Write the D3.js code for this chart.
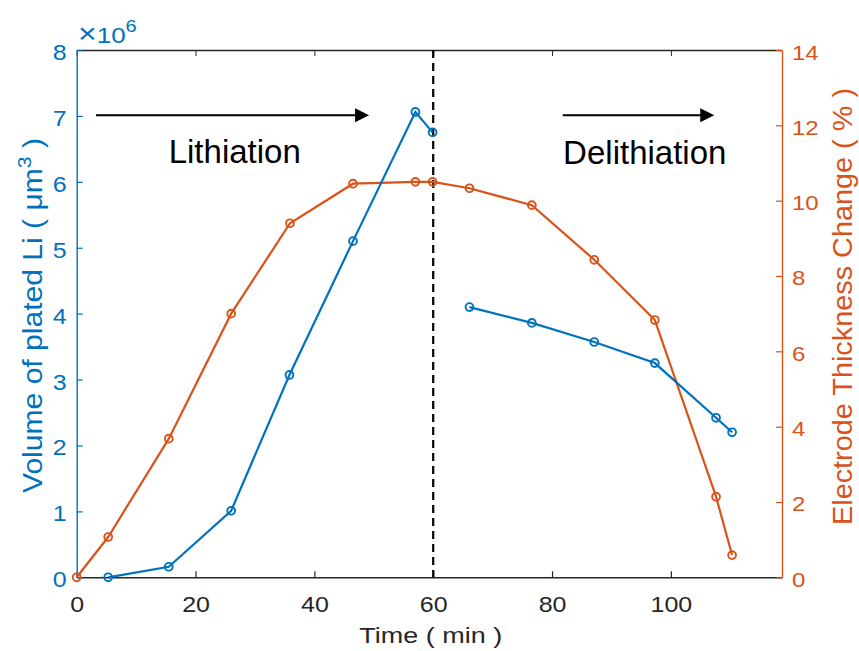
<!DOCTYPE html>
<html>
<head>
<meta charset="utf-8">
<script src="https://cdn.jsdelivr.net/npm/d3@7"></script>
<style>
  body { margin: 0; background: #fff; }
  text { font-family: "Liberation Sans", Arial, Helvetica, sans-serif; }
</style>
</head>
<body>
<div id="chart"></div>
<script>
// time (min) of each measurement
var timeThick = [0, 5.3, 15.5, 26.0, 35.9, 46.5, 57.0, 59.9, 66.1, 76.6, 87.1, 97.3, 107.6, 110.3];
// electrode thickness change (%)
var thickness = [0, 1.07, 3.68, 7.0, 9.4, 10.45, 10.5, 10.5, 10.33, 9.88, 8.43, 6.83, 2.14, 0.59];

// volume of plated Li (um^3), lithiation part and delithiation part
var volLithTime = [5.3, 15.5, 26.0, 35.8, 46.5, 57.0, 59.9];
var volLith = [0, 0.16e6, 1.01e6, 3.07e6, 5.1e6, 7.06e6, 6.75e6];
var volDelithTime = [66.1, 76.6, 87.1, 97.3, 107.6, 110.3];
var volDelith = [4.1e6, 3.86e6, 3.57e6, 3.25e6, 2.42e6, 2.2e6];

var xTicks = [0, 20, 40, 60, 80, 100];
var yLeftTicks = [0, 1e6, 2e6, 3e6, 4e6, 5e6, 6e6, 7e6, 8e6];
var yRightTicks = [0, 2, 4, 6, 8, 10, 12, 14];

var W = 859, H = 651;
// plot box edges (px)
var pL = 76.7, pR = 782, pT = 50, pB = 577.3;
var SQ = 0.85; // figure is squashed vertically
var BLUE = "#0072BD", ORANGE = "#D95319", DARK = "#262626";

var svg = d3.select("#chart").append("svg")
  .attr("width", W)
  .attr("height", H);

var x = d3.scaleLinear().domain([0, 118.7]).range([pL, pR]);
var yL = d3.scaleLinear().domain([0, 8e6]).range([pB, pT]);
var yR = d3.scaleLinear().domain([0, 14]).range([pB, pT]);

function styleTicks(g, dx, dy, anchor, size) {
  g.attr("font-size", size);
  g.selectAll(".tick line").attr("stroke-width", 1.2);
  g.selectAll(".tick text")
    .attr("x", null).attr("y", null).attr("dy", null)
    .attr("text-anchor", anchor)
    .attr("transform", "translate(" + dx + "," + dy + ") scale(1," + SQ + ")");
}

// top border with ticks
svg.append("g")
  .attr("transform", "translate(0," + pT + ")")
  .attr("color", DARK)
  .call(d3.axisTop(x).tickValues(xTicks).tickSizeInner(-6).tickSizeOuter(0).tickFormat(""))
  .select(".domain").attr("stroke-width", 1.4);

// bottom axis
var gx = svg.append("g")
  .attr("transform", "translate(0," + pB + ")")
  .attr("color", DARK)
  .call(d3.axisBottom(x).tickValues(xTicks).tickSizeInner(-6).tickSizeOuter(0));
gx.select(".domain").attr("stroke-width", 1.4);
styleTicks(gx, 0, 34.4, "middle", 25);

// left axis
var gl = svg.append("g")
  .attr("transform", "translate(" + pL + ",0)")
  .attr("color", BLUE)
  .call(d3.axisLeft(yL).tickValues(yLeftTicks).tickSizeInner(-6).tickSizeOuter(0)
    .tickFormat(function(d) { return d / 1e6; }));
gl.select(".domain").attr("stroke-width", 1.4);
styleTicks(gl, -10, 9.5, "end", 25);

// right axis
var gr = svg.append("g")
  .attr("transform", "translate(" + pR + ",0)")
  .attr("color", ORANGE)
  .call(d3.axisRight(yR).tickValues(yRightTicks).tickSizeInner(-6).tickSizeOuter(0));
gr.select(".domain").attr("stroke-width", 1.4);
styleTicks(gr, 10, 9, "start", 24);

// x10^6 exponent label
var expo = svg.append("text")
  .attr("transform", "translate(78,43) scale(1," + SQ + ")")
  .attr("fill", BLUE)
  .attr("font-size", 26);
expo.append("tspan").attr("font-size", 32).text("\u00d7");
expo.append("tspan").text("10");
expo.append("tspan").attr("font-size", 20).attr("dy", -13).text("6");

// axis labels
svg.append("text")
  .attr("transform", "translate(430.8,643.3) scale(1," + SQ + ")")
  .attr("text-anchor", "middle")
  .attr("fill", DARK)
  .attr("font-size", 27)
  .text("Time ( min )");

var ylab = svg.append("text")
  .attr("transform", "translate(42,315.5) rotate(-90)")
  .attr("text-anchor", "middle")
  .attr("fill", BLUE)
  .attr("font-size", 27)
  .attr("textLength", 355)
  .attr("lengthAdjust", "spacingAndGlyphs");
ylab.append("tspan").text("Volume of plated Li ( \u03bcm");
ylab.append("tspan").attr("font-size", 19).attr("dy", -11).text("3");
ylab.append("tspan").attr("dy", 11).text(" )");

svg.append("text")
  .attr("transform", "translate(851.7,306.5) rotate(-90)")
  .attr("text-anchor", "middle")
  .attr("fill", ORANGE)
  .attr("font-size", 27)
  .attr("textLength", 437)
  .attr("lengthAdjust", "spacingAndGlyphs")
  .text("Electrode Thickness Change ( % )");

// dashed line at 60 min
svg.append("line")
  .attr("x1", x(60)).attr("x2", x(60))
  .attr("y1", pT).attr("y2", pB)
  .attr("stroke", "#000")
  .attr("stroke-width", 2.2)
  .attr("stroke-dasharray", "8,5");

// series
function drawSeries(xs, ys, yScale, color) {
  var pts = xs.map(function(t, i) { return [x(t), yScale(ys[i])]; });
  svg.append("path")
    .attr("d", d3.line()(pts))
    .attr("fill", "none")
    .attr("stroke", color)
    .attr("stroke-width", 2.2);
  svg.append("g").selectAll("circle")
    .data(pts)
    .enter().append("circle")
    .attr("cx", function(d) { return d[0]; })
    .attr("cy", function(d) { return d[1]; })
    .attr("r", 3.9)
    .attr("fill", "none")
    .attr("stroke", color)
    .attr("stroke-width", 1.9);
}
drawSeries(timeThick, thickness, yR, ORANGE);
drawSeries(volLithTime, volLith, yL, BLUE);
drawSeries(volDelithTime, volDelith, yL, BLUE);

// annotations
function arrow(t0, t1, v) {
  var x0 = x(t0), x1 = x(t1), yy = yL(v);
  svg.append("line")
    .attr("x1", x0).attr("x2", x1 - 10)
    .attr("y1", yy).attr("y2", yy)
    .attr("stroke", "#000").attr("stroke-width", 2);
  svg.append("path")
    .attr("d", "M" + x1 + "," + yy + "L" + (x1 - 14) + "," + (yy - 7) + "L" + (x1 - 14) + "," + (yy + 7) + "Z")
    .attr("fill", "#000");
}
arrow(3.25, 49.2, 7.01e6);
arrow(81.8, 107.3, 7.01e6);

svg.append("text")
  .attr("x", x(26.6)).attr("y", yL(6.28e6))
  .attr("text-anchor", "middle")
  .attr("font-size", 33)
  .attr("fill", "#000")
  .text("Lithiation");
svg.append("text")
  .attr("x", x(95.6)).attr("y", yL(6.27e6))
  .attr("text-anchor", "middle")
  .attr("font-size", 33)
  .attr("fill", "#000")
  .text("Delithiation");
</script>
</body>
</html>
